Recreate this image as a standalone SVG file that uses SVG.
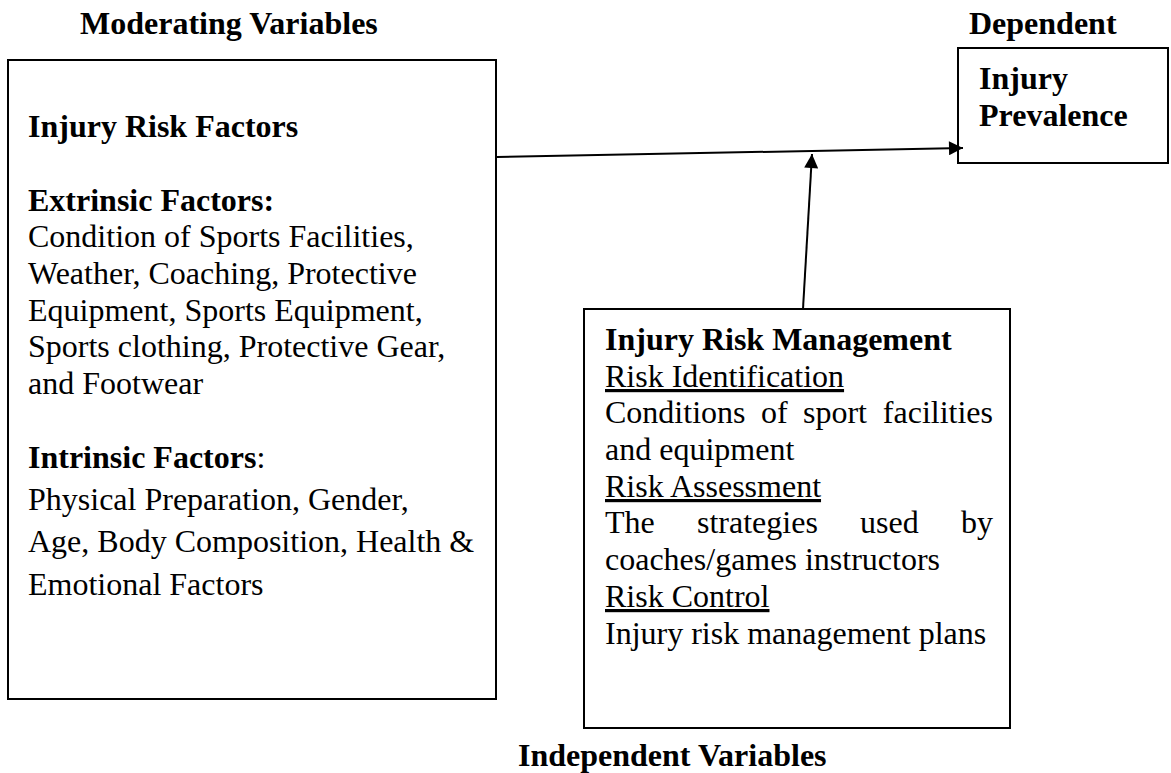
<svg xmlns="http://www.w3.org/2000/svg" width="1171" height="773" viewBox="0 0 1171 773">
  <defs>
    <marker id="arrow" viewBox="0 0 10 10" refX="10" refY="5" markerWidth="15" markerHeight="14" markerUnits="userSpaceOnUse" orient="auto">
      <path d="M0,0 L10,5 L0,10 Z" fill="#000"/>
    </marker>
  </defs>
  <style>
    text { font-family: "Liberation Serif", "Times New Roman", serif; font-size: 32px; fill: #000; }
    .b { font-weight: bold; }
    .u { text-decoration: underline; }
    .box { fill: #fff; stroke: #000; stroke-width: 2; }
    .link { fill: none; stroke: #000; stroke-width: 2; }
  </style>
  <rect width="1171" height="773" fill="#fff"/>

  <!-- group captions -->
  <g id="captions">
    <text class="b" x="80" y="34">Moderating Variables</text>
    <text class="b" x="969" y="34">Dependent</text>
    <text class="b" x="518" y="766">Independent Variables</text>
  </g>

  <!-- moderating variables: injury risk factors -->
  <g id="risk-factors">
    <rect class="box" x="8" y="60" width="488" height="639"/>
    <text class="b" x="28" y="137">Injury Risk Factors</text>
    <text class="b" x="28" y="211">Extrinsic Factors:</text>
    <text x="28" y="247">Condition of Sports Facilities,</text>
    <text x="28" y="284">Weather, Coaching, Protective</text>
    <text x="28" y="321">Equipment, Sports Equipment,</text>
    <text x="28" y="357">Sports clothing, Protective Gear,</text>
    <text x="28" y="394">and Footwear</text>
    <text x="28" y="468"><tspan class="b">Intrinsic Factors</tspan>:</text>
    <text x="28" y="510">Physical Preparation, Gender,</text>
    <text x="28" y="552">Age, Body Composition, Health &amp;</text>
    <text x="28" y="595">Emotional Factors</text>
  </g>

  <!-- dependent variable -->
  <g id="injury-prevalence">
    <rect class="box" x="958" y="48" width="210" height="115"/>
    <text class="b" x="979" y="89">Injury</text>
    <text class="b" x="979" y="126">Prevalence</text>
  </g>

  <!-- independent variable: injury risk management -->
  <g id="risk-management">
    <rect class="box" x="584" y="309" width="426" height="419"/>
    <text class="b" x="605" y="350">Injury Risk Management</text>
    <text class="u" x="605" y="387">Risk Identification</text>
    <text x="605" y="423">Conditions</text>
    <text x="761" y="423">of</text>
    <text x="803" y="423">sport</text>
    <text x="993" y="423" text-anchor="end">facilities</text>
    <text x="605" y="460">and equipment</text>
    <text class="u" x="605" y="497">Risk Assessment</text>
    <text x="605" y="533">The</text>
    <text x="697" y="533">strategies</text>
    <text x="860" y="533">used</text>
    <text x="993" y="533" text-anchor="end">by</text>
    <text x="605" y="570">coaches/games instructors</text>
    <text class="u" x="605" y="607">Risk Control</text>
    <text x="605" y="644">Injury risk management plans</text>
  </g>

  <!-- connectors -->
  <g id="connectors">
    <line class="link" x1="497" y1="157" x2="963" y2="148" marker-end="url(#arrow)"/>
    <line class="link" x1="803" y1="309" x2="812" y2="154" marker-end="url(#arrow)"/>
  </g>
</svg>
